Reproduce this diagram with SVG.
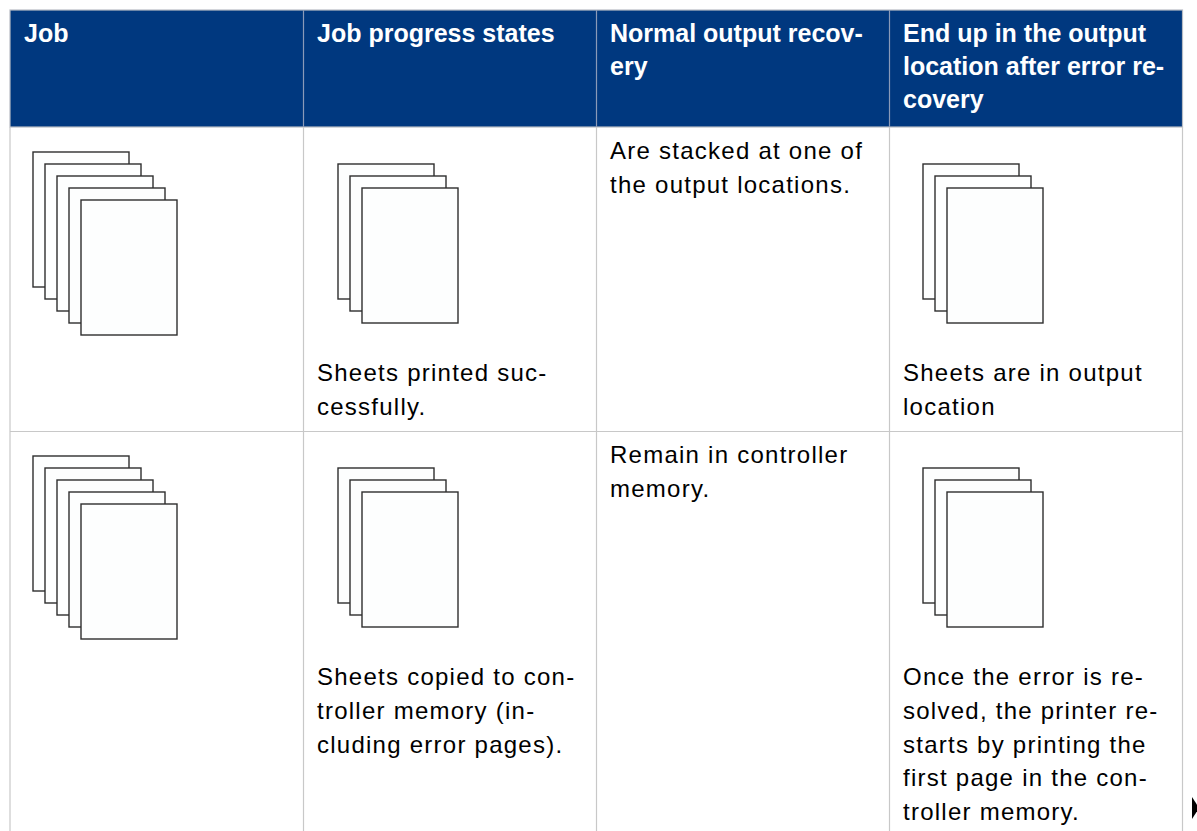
<svg xmlns="http://www.w3.org/2000/svg" xmlns:xlink="http://www.w3.org/1999/xlink" width="1197" height="831" viewBox="0 0 1197 831">
<style>
.hd{fill:#00387f}
.grid{stroke:#c8c8c8;stroke-width:1.2;fill:none}
.hgrid{stroke:#8a9ab8;stroke-width:1.2;fill:none}
.sheet{fill:#fdfefe;stroke:#2e2e2e;stroke-width:1.4}
.ht{font-family:"Liberation Sans",Arial,sans-serif;font-weight:bold;font-size:25px;fill:#ffffff}
.bt{font-family:"Liberation Sans",Arial,sans-serif;font-size:24px;letter-spacing:1.25px;fill:#000000}
</style>
<defs>
<rect id="sh" class="sheet" x="0" y="0" width="96" height="135"/>
<g id="stack5">
<use xlink:href="#sh" x="0" y="0"/>
<use xlink:href="#sh" x="12" y="12"/>
<use xlink:href="#sh" x="24" y="24"/>
<use xlink:href="#sh" x="36" y="36"/>
<use xlink:href="#sh" x="48" y="48"/>
</g>
<g id="stack3">
<use xlink:href="#sh" x="0" y="0"/>
<use xlink:href="#sh" x="12" y="12"/>
<use xlink:href="#sh" x="24" y="24"/>
</g>
</defs>
<rect width="1197" height="831" fill="#ffffff"/>
<g id="header">
<rect class="hd" x="10" y="10" width="1172.5" height="117"/>
<rect x="10" y="10" width="1172.5" height="117" fill="none" stroke="#b8bcc4" stroke-width="1.2"/>
<line class="hgrid" x1="303.5" y1="10" x2="303.5" y2="127"/>
<line class="hgrid" x1="596.5" y1="10" x2="596.5" y2="127"/>
<line class="hgrid" x1="889.5" y1="10" x2="889.5" y2="127"/>
<text class="ht" x="24" y="42">Job</text>
<text class="ht" x="317" y="42">Job progress states</text>
<text class="ht" x="610" y="42">Normal output recov-</text>
<text class="ht" x="610" y="75">ery</text>
<text class="ht" x="903" y="42">End up in the output</text>
<text class="ht" x="903" y="75">location after error re-</text>
<text class="ht" x="903" y="108">covery</text>
</g>
<g id="grid">
<line class="grid" x1="10" y1="127" x2="10" y2="831"/>
<line class="grid" x1="303.5" y1="127" x2="303.5" y2="831"/>
<line class="grid" x1="596.5" y1="127" x2="596.5" y2="831"/>
<line class="grid" x1="889.5" y1="127" x2="889.5" y2="831"/>
<line class="grid" x1="1182.5" y1="127" x2="1182.5" y2="831"/>
<line class="grid" x1="10" y1="431.5" x2="1182.5" y2="431.5"/>
</g>
<g id="row1-job"><use xlink:href="#stack5" x="33" y="152"/></g>
<g id="row1-progress">
<use xlink:href="#stack3" x="338" y="164"/>
<text class="bt" x="317" y="381">Sheets printed suc-</text>
<text class="bt" x="317" y="414.5">cessfully.</text>
</g>
<g id="row1-normal">
<text class="bt" x="610" y="159">Are stacked at one of</text>
<text class="bt" x="610" y="192.5">the output locations.</text>
</g>
<g id="row1-end">
<use xlink:href="#stack3" x="923" y="164"/>
<text class="bt" x="903" y="381">Sheets are in output</text>
<text class="bt" x="903" y="414.5">location</text>
</g>
<g id="row2-job"><use xlink:href="#stack5" x="33" y="456"/></g>
<g id="row2-progress">
<use xlink:href="#stack3" x="338" y="468"/>
<text class="bt" x="317" y="685">Sheets copied to con-</text>
<text class="bt" x="317" y="719">troller memory (in-</text>
<text class="bt" x="317" y="752.5">cluding error pages).</text>
</g>
<g id="row2-normal">
<text class="bt" x="610" y="463">Remain in controller</text>
<text class="bt" x="610" y="496.5">memory.</text>
</g>
<g id="row2-end">
<use xlink:href="#stack3" x="923" y="468"/>
<text class="bt" x="903" y="685">Once the error is re-</text>
<text class="bt" x="903" y="719">solved, the printer re-</text>
<text class="bt" x="903" y="752.5">starts by printing the</text>
<text class="bt" x="903" y="786">first page in the con-</text>
<text class="bt" x="903" y="819.5">troller memory.</text>
</g>
<polygon id="nav-arrow" points="1192,797 1199,808 1192,819" fill="#000000"/>
</svg>
